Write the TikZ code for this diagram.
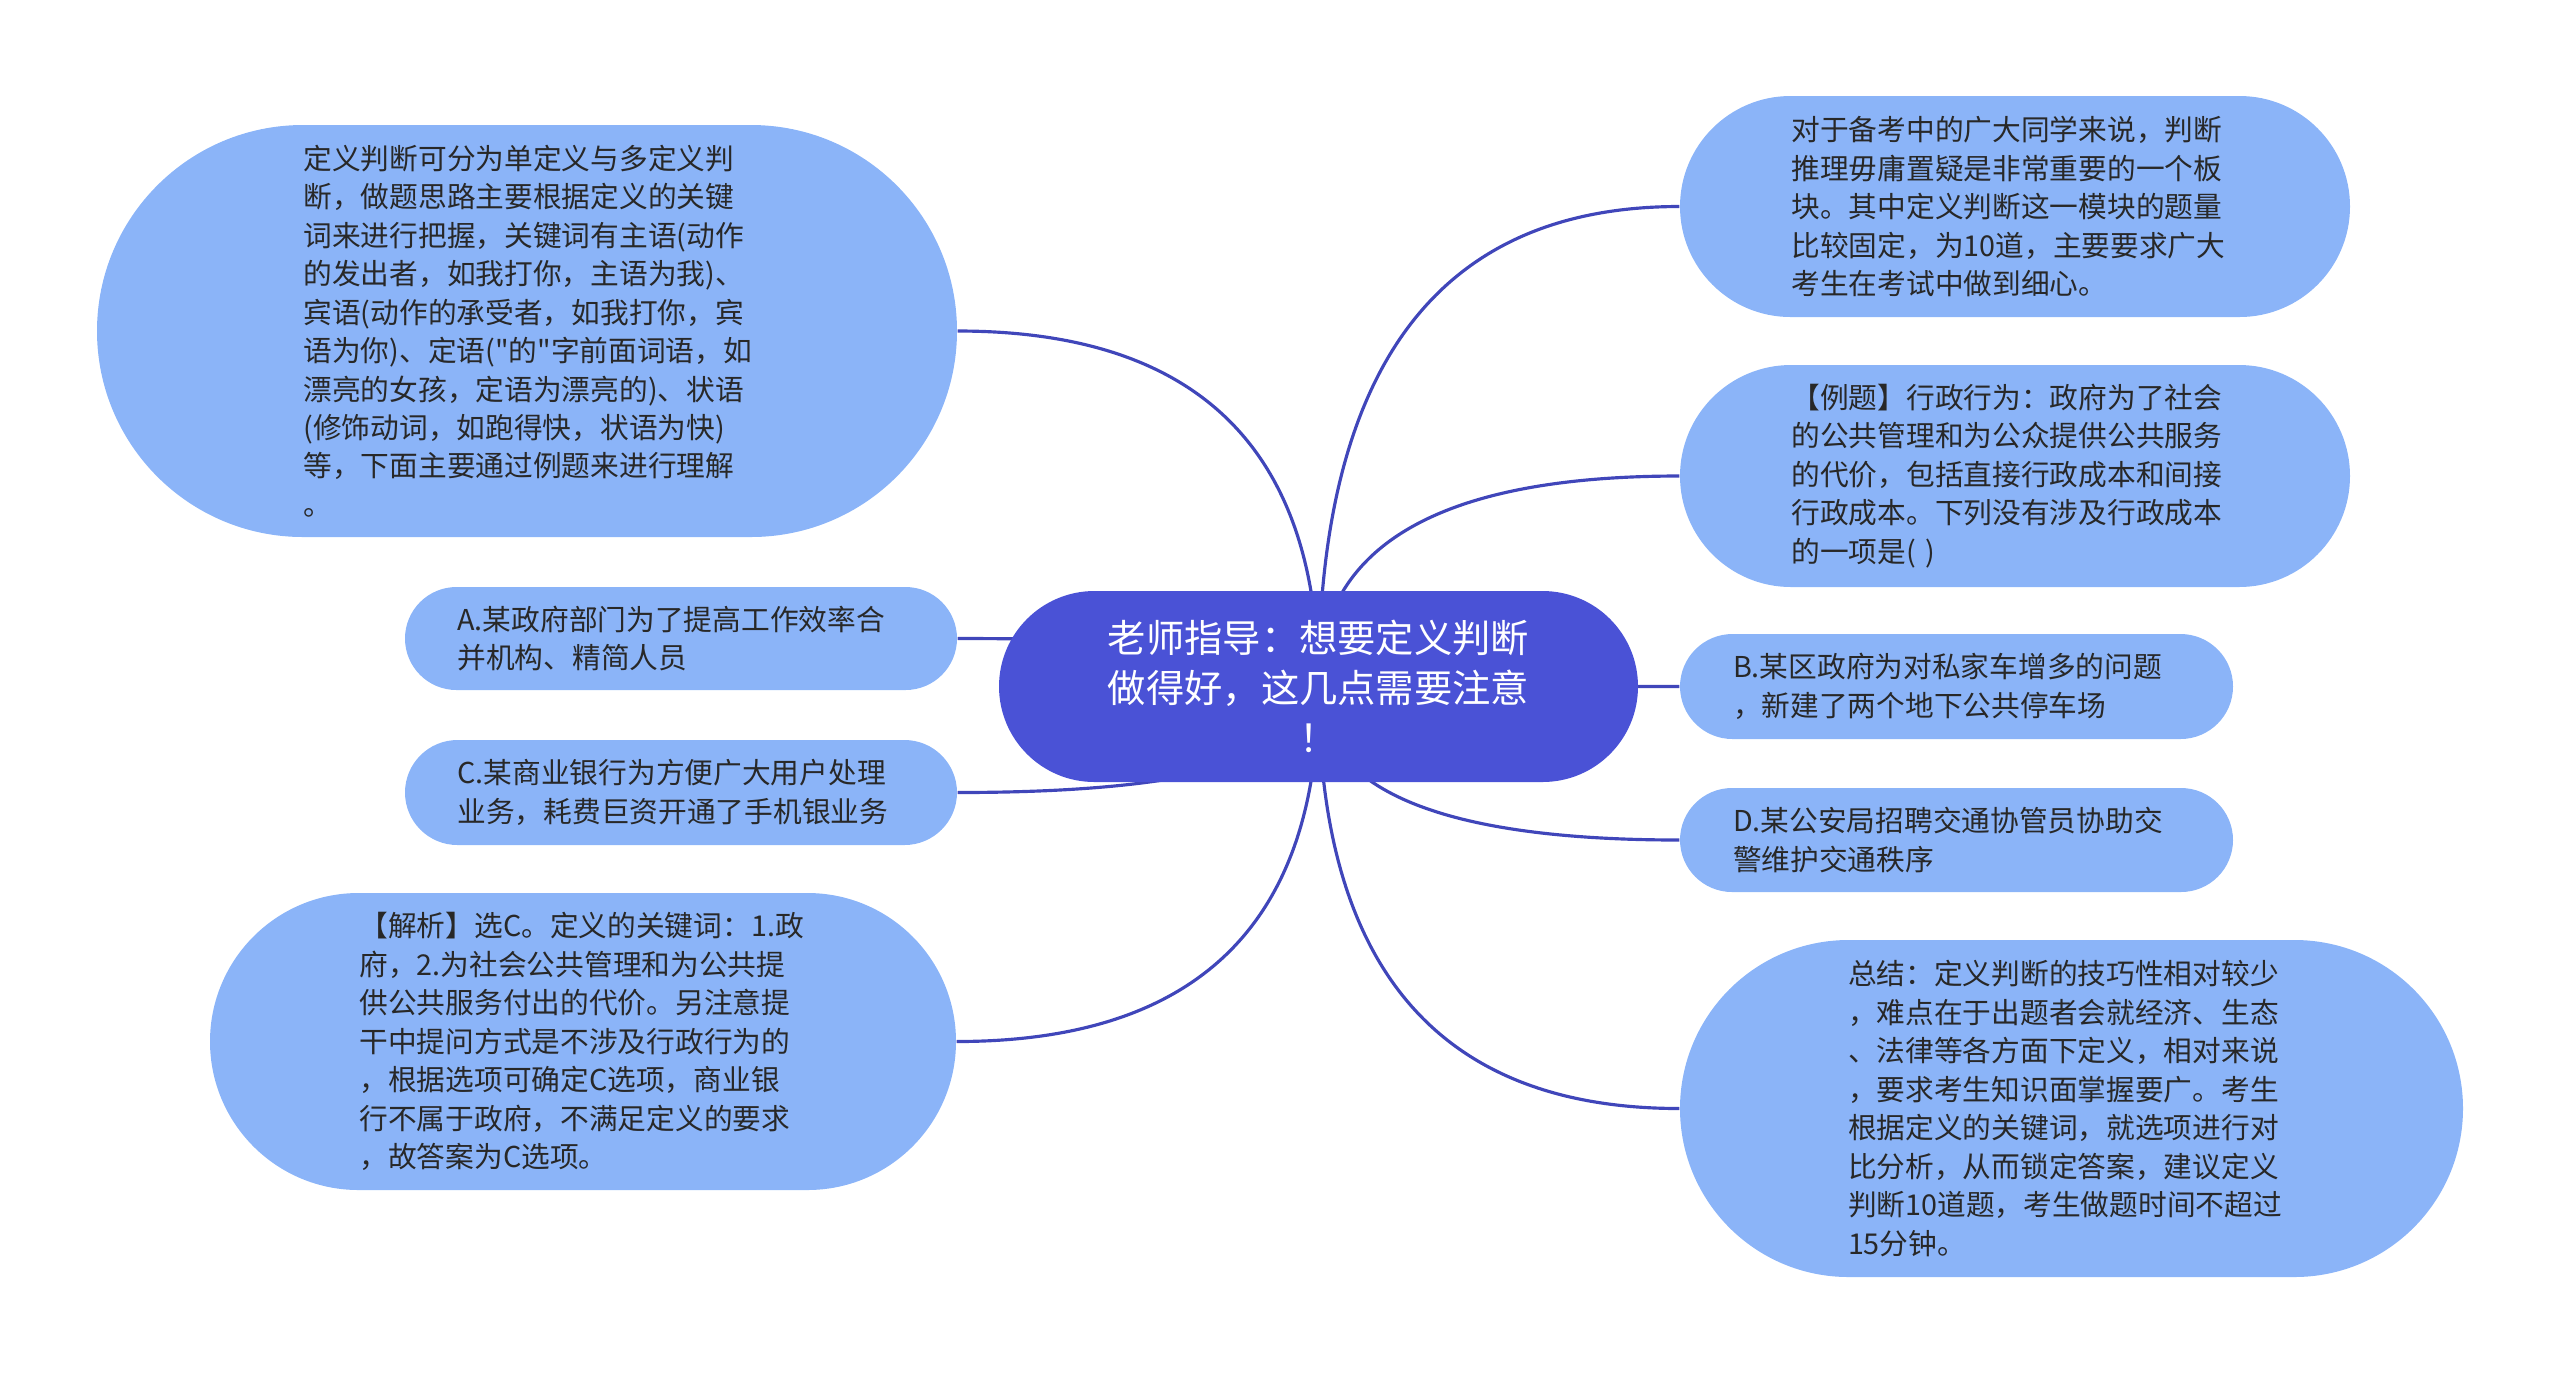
\documentclass[tikz,border=0pt]{standalone}
\usepackage{fontspec}
\newfontfamily\cjk{Noto Sans CJK SC}
\usepackage{tikz}
\usetikzlibrary{calc, backgrounds}

\begin{document}
\begin{tikzpicture}[
  execute at begin picture={
    \definecolor{leafblue}{RGB}{139,180,248}
    \definecolor{rootblue}{RGB}{74,82,214}
    \definecolor{linkblue}{RGB}{64,70,186}
    \definecolor{leaftext}{RGB}{40,40,40}
  },
  leaf/.style={
    fill=leafblue,
    text=leaftext,
    align=left,
    text width=4.47cm,
    inner sep=0pt,
    font={\cjk\fontsize{8.17pt}{10.95pt}\selectfont}
  },
  hub/.style={
    fill=rootblue,
    text=white,
    align=center,
    inner sep=0pt,
    font={\cjk\fontsize{10.9pt}{14.2pt}\selectfont}
  },
  branch/.style={
    draw=linkblue,
    line width=0.9pt,
    to path={.. controls ($(\tikztostart)!2/3!(\tikztostart |- \tikztotarget)$)
      and ($(\tikztotarget)!2/3!(\tikztostart |- \tikztotarget)$) .. (\tikztotarget)}
  }
]

\useasboundingbox (0,0) rectangle (25.6,-13.73);

\node[hub, minimum width=6.39cm, minimum height=1.91cm, rounded corners=0.955cm]
  (root) at (13.185,-6.865)
  {老师指导：想要定义判断\\做得好，这几点需要注意\\！};

% left side
\node[leaf, minimum width=8.6cm, minimum height=4.12cm, rounded corners=2.06cm]
  (define) at (5.27,-3.31)
  {定义判断可分为单定义与多定义判\\
   断，做题思路主要根据定义的关键\\
   词来进行把握，关键词有主语(动作\\
   的发出者，如我打你，主语为我)、\\
   宾语(动作的承受者，如我打你，宾\\
   语为你)、定语("的"字前面词语，如\\
   漂亮的女孩，定语为漂亮的)、状语\\
   (修饰动词，如跑得快，状语为快)\\
   等，下面主要通过例题来进行理解\\
   。};

\node[leaf, minimum width=5.52cm, minimum height=1.03cm, rounded corners=0.515cm]
  (optA) at (6.81,-6.385)
  {A.某政府部门为了提高工作效率合\\并机构、精简人员};

\node[leaf, minimum width=5.52cm, minimum height=1.05cm, rounded corners=0.525cm]
  (optC) at (6.81,-7.925)
  {C.某商业银行为方便广大用户处理\\业务，耗费巨资开通了手机银业务};

\node[leaf, minimum width=7.46cm, minimum height=2.97cm, rounded corners=1.485cm]
  (analysis) at (5.83,-10.415)
  {【解析】选C。定义的关键词：1.政\\
   府，2.为社会公共管理和为公共提\\
   供公共服务付出的代价。另注意提\\
   干中提问方式是不涉及行政行为的\\
   ，根据选项可确定C选项，商业银\\
   行不属于政府，不满足定义的要求\\
   ，故答案为C选项。};

% right side
\node[leaf, minimum width=6.7cm, minimum height=2.21cm, rounded corners=1.105cm]
  (intro) at (20.15,-2.065)
  {对于备考中的广大同学来说，判断\\
   推理毋庸置疑是非常重要的一个板\\
   块。其中定义判断这一模块的题量\\
   比较固定，为10道，主要要求广大\\
   考生在考试中做到细心。};

\node[leaf, minimum width=6.7cm, minimum height=2.22cm, rounded corners=1.11cm]
  (example) at (20.15,-4.76)
  {【例题】行政行为：政府为了社会\\
   的公共管理和为公众提供公共服务\\
   的代价，包括直接行政成本和间接\\
   行政成本。下列没有涉及行政成本\\
   的一项是( )};

\node[leaf, minimum width=5.53cm, minimum height=1.05cm, rounded corners=0.525cm]
  (optB) at (19.565,-6.865)
  {B.某区政府为对私家车增多的问题\\，新建了两个地下公共停车场};

\node[leaf, minimum width=5.53cm, minimum height=1.04cm, rounded corners=0.52cm]
  (optD) at (19.565,-8.40)
  {D.某公安局招聘交通协管员协助交\\警维护交通秩序};

\node[leaf, minimum width=7.83cm, minimum height=3.37cm, rounded corners=1.685cm]
  (summary) at (20.715,-11.085)
  {总结：定义判断的技巧性相对较少\\
   ，难点在于出题者会就经济、生态\\
   、法律等各方面下定义，相对来说\\
   ，要求考生知识面掌握要广。考生\\
   根据定义的关键词，就选项进行对\\
   比分析，从而锁定答案，建议定义\\
   判断10道题，考生做题时间不超过\\
   15分钟。};

\begin{scope}[on background layer]
\draw[branch] (root.center) to (define.east);
\draw[branch] (root.center) to (optA.east);
\draw[branch] (root.center) to (optC.east);
\draw[branch] (root.center) to (analysis.east);
\draw[branch] (root.center) to (intro.west);
\draw[branch] (root.center) to (example.west);
\draw[branch] (root.center) to (optB.west);
\draw[branch] (root.center) to (optD.west);
\draw[branch] (root.center) to (summary.west);
\end{scope}

\end{tikzpicture}
\end{document}
